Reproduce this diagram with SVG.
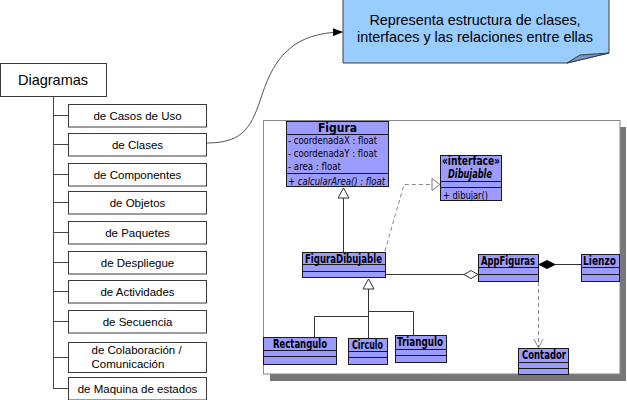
<svg xmlns="http://www.w3.org/2000/svg" width="627" height="400" viewBox="0 0 627 400">
<defs>
<style>
.item rect{fill:#fff;stroke:#3a3a3a;stroke-width:1}
.item text{font-family:"Liberation Sans",Arial,sans-serif;font-size:11.5px;fill:#000;text-anchor:middle}
.item text.l{text-anchor:start}
.tline{stroke:#444;stroke-width:1;fill:none}
.cls rect{fill:#9c9cff;stroke:#1a1a1a;stroke-width:1}
.cls line{stroke:#1a1a1a;stroke-width:1}
.nm{font-family:"DejaVu Sans Condensed","DejaVu Sans",sans-serif;font-weight:bold;font-size:12px;fill:#000}
.at{font-family:"DejaVu Sans Condensed","DejaVu Sans",sans-serif;font-size:11px;fill:#000}
.solid{stroke:#333;stroke-width:1;fill:none}
.dash{stroke:#888;stroke-width:1;fill:none;stroke-dasharray:4,3}
</style>
<marker id="ah" markerWidth="10" markerHeight="8" refX="9" refY="4" orient="auto" markerUnits="userSpaceOnUse">
<path d="M0,0 L10,4 L0,8 z" fill="#000"/>
</marker>
</defs>
<rect x="0" y="0" width="627" height="400" fill="#fff"/>

<!-- note -->
<g id="note">
<path d="M343,-1 H609 V53 L567,63 H343 Z" fill="#99ccff" stroke="#3c3c3c" stroke-width="1"/>
<path d="M567,63 L580,55 L609,53 Z" fill="#6f97c8" stroke="#3c3c3c" stroke-width="1"/>
<text x="475" y="25" font-family="Liberation Sans, Arial, sans-serif" font-size="14.4" text-anchor="middle">Representa estructura de clases,</text>
<text x="475" y="42" font-family="Liberation Sans, Arial, sans-serif" font-size="14.4" text-anchor="middle">interfaces y las relaciones entre ellas</text>
</g>

<!-- UML image frame -->
<g id="uml-frame">
<rect x="620" y="127" width="6" height="254" fill="#777"/>
<rect x="270" y="374" width="356" height="7" fill="#777"/>
<rect x="263.5" y="120.5" width="356.5" height="253.5" fill="#fff" stroke="#888" stroke-width="1"/>
</g>

<!-- tree -->
<g id="tree-lines">
<line class="tline" x1="53.5" y1="97" x2="53.5" y2="388"/>
<line class="tline" x1="53" y1="115.5" x2="68" y2="115.5"/>
<line class="tline" x1="53" y1="144.5" x2="68" y2="144.5"/>
<line class="tline" x1="53" y1="174.5" x2="68" y2="174.5"/>
<line class="tline" x1="53" y1="202.5" x2="68" y2="202.5"/>
<line class="tline" x1="53" y1="232.5" x2="68" y2="232.5"/>
<line class="tline" x1="53" y1="262.5" x2="68" y2="262.5"/>
<line class="tline" x1="53" y1="291.5" x2="68" y2="291.5"/>
<line class="tline" x1="53" y1="321.5" x2="68" y2="321.5"/>
<line class="tline" x1="53" y1="357.5" x2="68" y2="357.5"/>
<line class="tline" x1="53" y1="388.5" x2="68" y2="388.5"/>
</g>

<g id="diagramas">
<rect x="0.5" y="63.5" width="106" height="33" fill="#fff" stroke="#3a3a3a"/>
<text x="53" y="85" font-family="Liberation Sans, Arial, sans-serif" font-size="14.5" text-anchor="middle">Diagramas</text>
</g>
<g id="casos" class="item"><rect x="68.5" y="104.5" width="138" height="22.5"/><text x="137.5" y="119.5">de Casos de Uso</text></g>
<g id="clases" class="item"><rect x="68.5" y="133.5" width="138" height="22.5"/><text x="137.5" y="148.5">de Clases</text></g>
<g id="componentes" class="item"><rect x="68.5" y="163.5" width="138" height="22.5"/><text x="137.5" y="178.5">de Componentes</text></g>
<g id="objetos" class="item"><rect x="68.5" y="191.5" width="138" height="22.5"/><text x="137.5" y="206.5">de Objetos</text></g>
<g id="paquetes" class="item"><rect x="68.5" y="221.5" width="138" height="22.5"/><text x="137.5" y="236.5">de Paquetes</text></g>
<g id="despliegue" class="item"><rect x="68.5" y="251.5" width="138" height="22.5"/><text x="137.5" y="266.5">de Despliegue</text></g>
<g id="actividades" class="item"><rect x="68.5" y="280.5" width="138" height="22.5"/><text x="137.5" y="295.5">de Actividades</text></g>
<g id="secuencia" class="item"><rect x="68.5" y="310.5" width="138" height="22.5"/><text x="137.5" y="325.5">de Secuencia</text></g>
<g id="colaboracion" class="item"><rect x="68.5" y="342.5" width="138" height="30"/><text class="l" x="91.5" y="354">de Colaboración /</text><text class="l" x="91.5" y="368">Comunicación</text></g>
<g id="maquina" class="item"><rect x="68.5" y="377.5" width="138" height="22.5"/><text x="137.5" y="392.5">de Maquina de estados</text></g>

<!-- UML connectors -->
<g id="connectors">
<path d="M207,143 C245,143 252,125 262,95 C275,55 295,33 342,32" stroke="#555" stroke-width="1" fill="none" marker-end="url(#ah)"/>
<line class="solid" x1="343.5" y1="198" x2="343.5" y2="252"/>
<path d="M343.5,188 L338,198 L349,198 Z" fill="#fff" stroke="#333"/>
<path class="dash" d="M385,251 L404,184.5 L432,184.5"/>
<path d="M440,184.5 L432,178.5 L432,190.5 Z" fill="#fff" stroke="#777"/>
<path d="M368.5,279 L363,289 L374,289 Z" fill="#fff" stroke="#333"/>
<line class="solid" x1="368.5" y1="289" x2="368.5" y2="338"/>
<path class="solid" d="M368.5,316.5 H314.5 V337"/>
<path class="solid" d="M368.5,311.5 H413.5 V335"/>
<line class="solid" x1="386" y1="274.5" x2="464" y2="274.5"/>
<path d="M464,274.5 L471,270.5 L478,274.5 L471,278.5 Z" fill="#fff" stroke="#333"/>
<line class="solid" x1="555" y1="264.5" x2="581" y2="264.5"/>
<path d="M539,264.5 L547,260.5 L555,264.5 L547,268.5 Z" fill="#000" stroke="#000"/>
<line class="dash" x1="538.5" y1="282" x2="538.5" y2="347"/>
<path d="M534,339 L538.5,348 L543,339" fill="none" stroke="#888"/>
</g>

<!-- UML classes -->
<g id="figura" class="cls">
<rect x="286.5" y="121.5" width="102" height="65"/>
<line x1="286.5" y1="134.5" x2="388.5" y2="134.5"/>
<line x1="286.5" y1="173.5" x2="388.5" y2="173.5"/>
<text class="nm" x="337.5" y="132" text-anchor="middle">Figura</text>
<text class="at" x="288" y="144" textLength="89" lengthAdjust="spacingAndGlyphs">- coordenadaX : float</text>
<text class="at" x="288" y="157" textLength="89" lengthAdjust="spacingAndGlyphs">- coordenadaY : float</text>
<text class="at" x="288" y="170" textLength="53" lengthAdjust="spacingAndGlyphs">- area : float</text>
<text class="at" x="288" y="184.5" font-style="italic" textLength="97" lengthAdjust="spacingAndGlyphs">+ calcularArea() : float</text>
</g>

<g id="dibujable" class="cls">
<rect x="440.5" y="155.5" width="61" height="45"/>
<line x1="440.5" y1="181.5" x2="501.5" y2="181.5"/>
<line x1="440.5" y1="187.5" x2="501.5" y2="187.5"/>
<text class="nm" x="442" y="164.5" font-size="11" textLength="58" lengthAdjust="spacingAndGlyphs">«interface»</text>
<text class="nm" x="448" y="177.5" font-style="italic" font-size="11" textLength="44" lengthAdjust="spacingAndGlyphs">Dibujable</text>
<text class="at" x="443" y="198.5" textLength="45" lengthAdjust="spacingAndGlyphs">+ dibujar()</text>
</g>

<g id="figuradibujable" class="cls">
<rect x="302.5" y="252.5" width="83" height="25"/>
<line x1="302.5" y1="264.5" x2="385.5" y2="264.5"/>
<line x1="302.5" y1="271.5" x2="385.5" y2="271.5"/>
<text class="nm" x="305" y="262.5" textLength="77" lengthAdjust="spacingAndGlyphs">FiguraDibujable</text>
</g>

<g id="appfiguras" class="cls">
<rect x="478.5" y="254.5" width="60" height="27"/>
<line x1="478.5" y1="267.5" x2="538.5" y2="267.5"/>
<line x1="478.5" y1="274.5" x2="538.5" y2="274.5"/>
<text class="nm" x="481" y="264.5" textLength="54" lengthAdjust="spacingAndGlyphs">AppFiguras</text>
</g>

<g id="lienzo" class="cls">
<rect x="581.5" y="254.5" width="38" height="27"/>
<line x1="581.5" y1="267.5" x2="619.5" y2="267.5"/>
<line x1="581.5" y1="274.5" x2="619.5" y2="274.5"/>
<text class="nm" x="583" y="264.5" textLength="33" lengthAdjust="spacingAndGlyphs">Lienzo</text>
</g>

<g id="rectangulo" class="cls">
<rect x="263.5" y="337.5" width="73" height="27"/>
<line x1="263.5" y1="350.5" x2="336.5" y2="350.5"/>
<line x1="263.5" y1="356.5" x2="336.5" y2="356.5"/>
<text class="nm" x="273" y="347.5" textLength="54" lengthAdjust="spacingAndGlyphs">Rectangulo</text>
</g>

<g id="circulo" class="cls">
<rect x="348.5" y="338.5" width="39" height="26"/>
<line x1="348.5" y1="351.5" x2="387.5" y2="351.5"/>
<line x1="348.5" y1="357.5" x2="387.5" y2="357.5"/>
<text class="nm" x="352" y="349" textLength="31" lengthAdjust="spacingAndGlyphs">Circulo</text>
</g>

<g id="triangulo" class="cls">
<rect x="395.5" y="335.5" width="51" height="27"/>
<line x1="395.5" y1="349.5" x2="446.5" y2="349.5"/>
<line x1="395.5" y1="355.5" x2="446.5" y2="355.5"/>
<text class="nm" x="397" y="345.5" textLength="46" lengthAdjust="spacingAndGlyphs">Triangulo</text>
</g>

<g id="contador" class="cls">
<rect x="518.5" y="348.5" width="50" height="26"/>
<line x1="518.5" y1="362.5" x2="568.5" y2="362.5"/>
<line x1="518.5" y1="368.5" x2="568.5" y2="368.5"/>
<text class="nm" x="522" y="359" textLength="44" lengthAdjust="spacingAndGlyphs">Contador</text>
</g>
</svg>
